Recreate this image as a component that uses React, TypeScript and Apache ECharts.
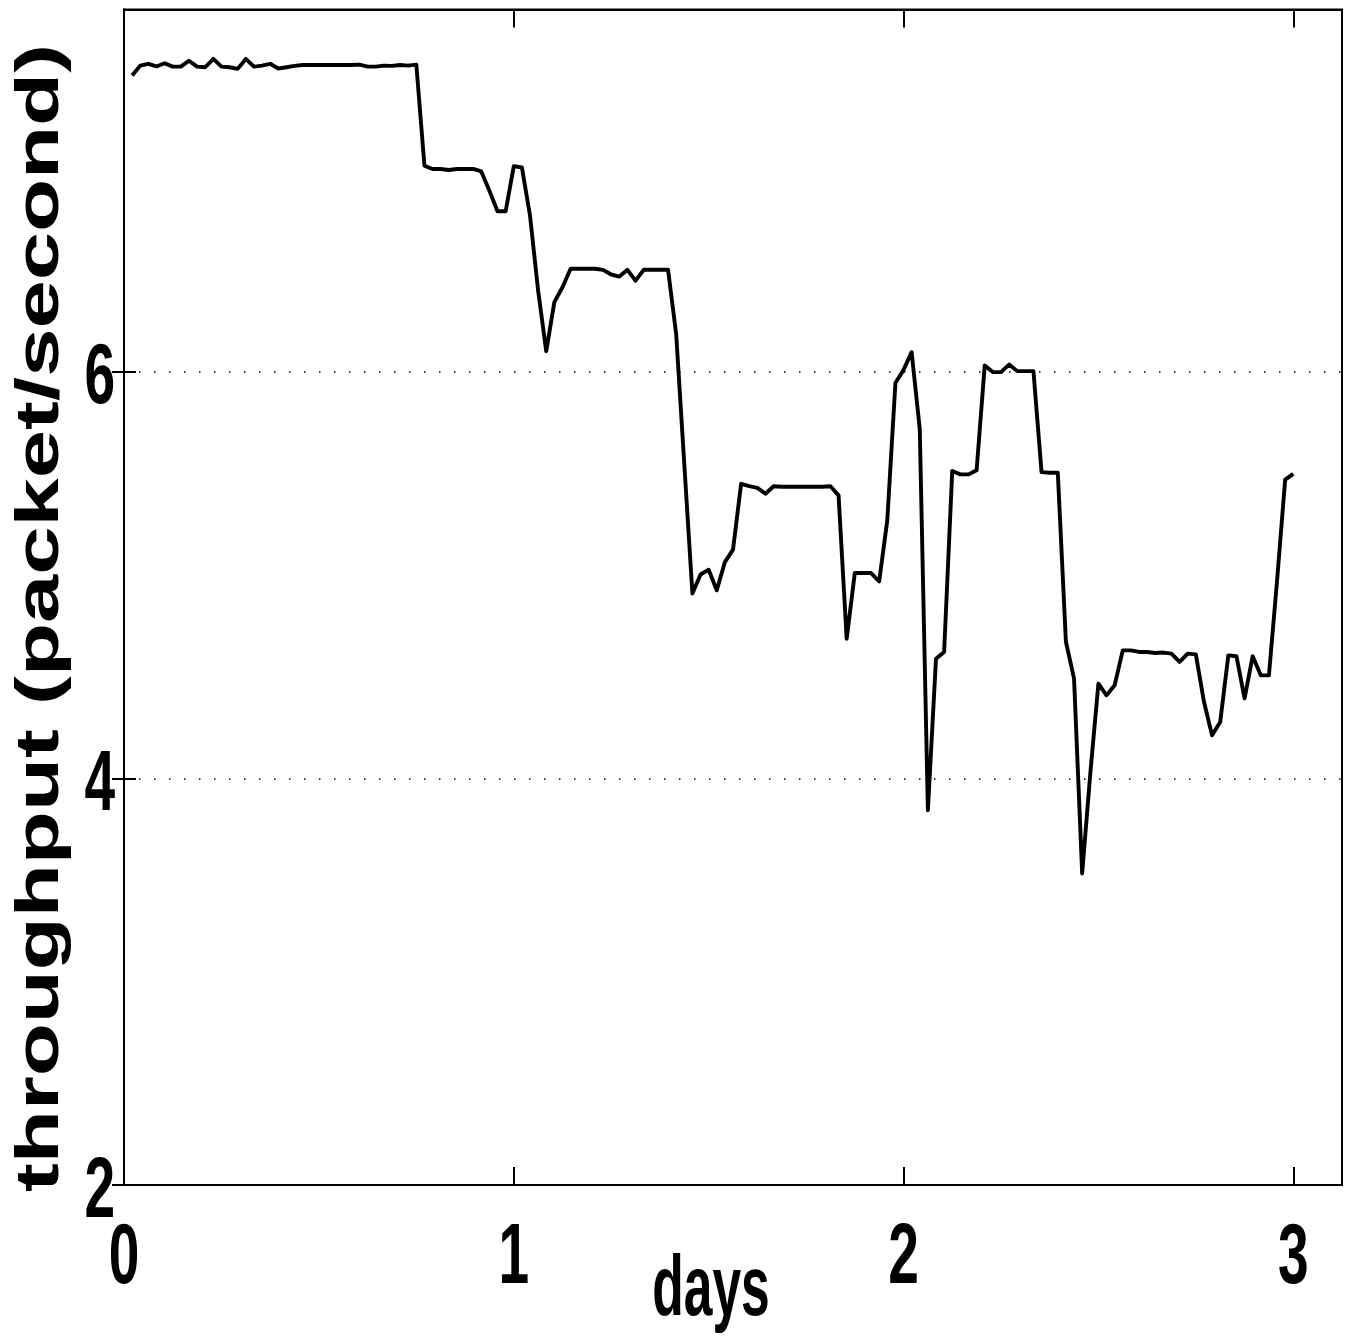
import React, { useEffect, useRef } from "react";
import * as echarts from "echarts";

// sampling step: one sample every half hour (in days)
const SAMPLE_STEP_DAYS = 1 / 48;

const throughput: number[] = [
  7.455, 7.504, 7.513, 7.5, 7.516, 7.499, 7.499, 7.528, 7.499, 7.496,
  7.537, 7.499, 7.496, 7.488, 7.537, 7.499, 7.504, 7.513, 7.49, 7.496,
  7.503, 7.507, 7.507, 7.507, 7.507, 7.507, 7.507, 7.507, 7.509, 7.499,
  7.499, 7.504, 7.503, 7.507, 7.504, 7.509, 7.012, 6.996, 6.996, 6.991,
  6.996, 6.996, 6.996, 6.984, 6.889, 6.788, 6.788, 7.009, 7.004, 6.767,
  6.398, 6.1, 6.341, 6.414, 6.505, 6.505, 6.505, 6.505, 6.5, 6.477,
  6.467, 6.5, 6.447, 6.5, 6.5, 6.5, 6.5, 6.185, 5.546, 4.908,
  5.002, 5.025, 4.924, 5.063, 5.124, 5.448, 5.436, 5.428, 5.399, 5.436,
  5.433, 5.433, 5.433, 5.433, 5.433, 5.433, 5.436, 5.391, 4.686, 5.009,
  5.009, 5.009, 4.968, 5.268, 5.943, 6.008, 6.095, 5.718, 3.843, 4.588,
  4.621, 5.511, 5.494, 5.494, 5.514, 6.03, 5.997, 5.997, 6.034, 6.002,
  6.002, 6.002, 5.505, 5.502, 5.502, 4.671, 4.49, 3.532, 4.023, 4.465,
  4.408, 4.457, 4.629, 4.629, 4.621, 4.621, 4.616, 4.618, 4.613, 4.572,
  4.613, 4.609, 4.376, 4.211, 4.277, 4.604, 4.6, 4.393, 4.6, 4.506,
  4.506, 4.97, 5.468, 5.497,
];

const X_TICKS = [0, 1, 2, 3];
const Y_TICKS = [2, 4, 6];

const X_MIN = 0;
const X_MAX = 3.125;
const X_INTERVAL = 1;
const Y_MIN = 2;
const Y_MAX = 7.78;
const Y_INTERVAL = 2;

const X_NAME = "days";
const Y_NAME = "throughput (packet/second)";

const FONT = '"Liberation Sans", Arial, Helvetica, sans-serif';

export default function App() {
  const ref = useRef<HTMLDivElement>(null);

  useEffect(() => {
    document.body.style.margin = "0";
    if (!ref.current) return;
    const chart = echarts.init(ref.current, undefined, { renderer: "svg" });

    const seriesData = throughput.map((v, i) => [(i + 1) * SAMPLE_STEP_DAYS, v]);

    const frameLine = { show: true, lineStyle: { color: "#000", width: 2 } };
    const tickStyle = { color: "#000", width: 2 };

    chart.setOption({
      animation: false,
      backgroundColor: "#fff",
      grid: {
        left: 124,
        right: 7,
        top: 9.5,
        bottom: 158,
        show: true,
        borderColor: "#000",
        borderWidth: 2,
        backgroundColor: "transparent",
      },
      xAxis: [
        {
          type: "value",
          position: "bottom",
          min: X_MIN,
          max: X_MAX,
          interval: X_INTERVAL,
          axisLine: frameLine,
          axisTick: { show: true, inside: true, length: 18, customValues: X_TICKS, lineStyle: tickStyle },
          axisLabel: { show: false },
          splitLine: { show: false },
        },
        {
          type: "value",
          position: "top",
          min: X_MIN,
          max: X_MAX,
          interval: X_INTERVAL,
          axisLine: frameLine,
          axisTick: { show: true, inside: true, length: 18, customValues: X_TICKS, lineStyle: tickStyle },
          axisLabel: { show: false },
          splitLine: { show: false },
        },
      ],
      yAxis: [
        {
          type: "value",
          position: "left",
          min: Y_MIN,
          max: Y_MAX,
          interval: Y_INTERVAL,
          axisLine: frameLine,
          axisTick: { show: true, inside: true, length: 12, customValues: Y_TICKS, lineStyle: tickStyle },
          axisLabel: { show: false },
          splitLine: {
            show: true,
            lineStyle: { color: "#000", width: 1.5, type: [1.5, 13.5] },
          },
        },
        {
          type: "value",
          position: "right",
          min: Y_MIN,
          max: Y_MAX,
          interval: Y_INTERVAL,
          axisLine: frameLine,
          axisTick: { show: true, inside: true, length: 12, customValues: Y_TICKS, lineStyle: tickStyle },
          axisLabel: { show: false },
          splitLine: { show: false },
        },
      ],
      series: [
        {
          type: "line",
          xAxisIndex: 0,
          yAxisIndex: 0,
          data: seriesData,
          showSymbol: false,
          symbol: "none",
          lineStyle: { color: "#000", width: 3.9, join: "round" },
          silent: true,
        },
      ],
    });

    // Tick labels drawn with the axes' own scale (condensed look via scaleX)
    const labelStyle = {
      fontFamily: FONT,
      fontWeight: "bold",
      fontSize: 86,
      fill: "#000",
    };
    const graphics: any[] = [];
    X_TICKS.forEach((t) => {
      const p = chart.convertToPixel({ xAxisIndex: 0, yAxisIndex: 0 }, [t, Y_MIN]) as number[];
      graphics.push({
        type: "text",
        x: p[0],
        y: p[1] + 68,
        scaleX: 0.64,
        style: { ...labelStyle, text: String(t), align: "center", verticalAlign: "middle" },
      });
    });
    Y_TICKS.forEach((t) => {
      const p = chart.convertToPixel({ xAxisIndex: 0, yAxisIndex: 0 }, [X_MIN, t]) as number[];
      graphics.push({
        type: "text",
        x: p[0] - 9,
        y: p[1] + 2,
        scaleX: 0.64,
        style: { ...labelStyle, text: String(t), align: "right", verticalAlign: "middle" },
      });
    });
    graphics.push({
      type: "text",
      x: 711,
      y: 1285,
      scaleX: 0.6,
      scaleY: 1,
      style: { ...labelStyle, text: X_NAME, align: "center", verticalAlign: "middle" },
    });
    graphics.push({
      type: "text",
      x: 37,
      y: 618,
      rotation: Math.PI / 2,
      scaleX: 1.01,
      scaleY: 0.72,
      style: { ...labelStyle, text: Y_NAME, align: "center", verticalAlign: "middle" },
    });

    chart.setOption({ graphic: graphics });

    return () => chart.dispose();
  }, []);

  return <div ref={ref} style={{ width: 1349, height: 1343 }} />;
}
